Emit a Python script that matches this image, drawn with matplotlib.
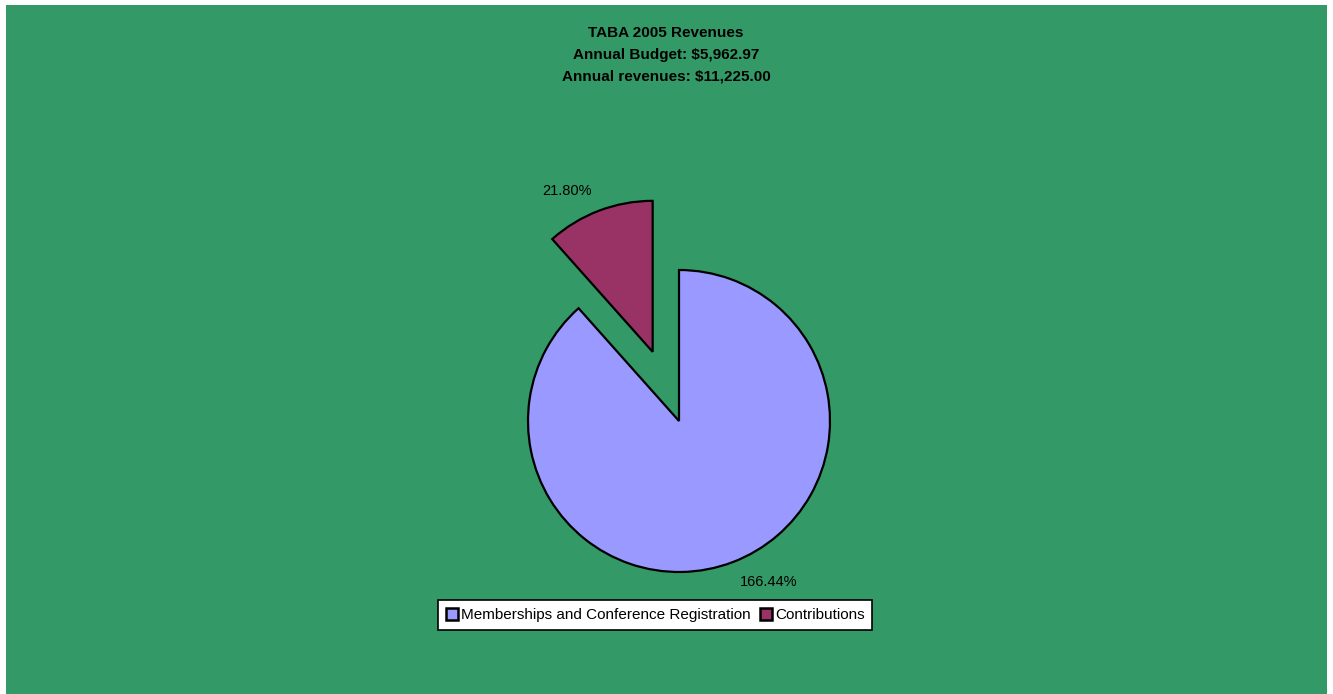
import matplotlib.pyplot as plt
from matplotlib.patches import Rectangle

plt.rcParams['font.family'] = ['Liberation Sans', 'DejaVu Sans']

# data: share of annual budget, in percent
categories = ['Memberships and Conference Registration', 'Contributions']
values = [166.44, 21.80]
colors = ['#9999FF', '#993366']
explode = [0.0, 0.49]

title_lines = ['TABA 2005 Revenues',
               'Annual Budget: $5,962.97',
               'Annual revenues: $11,225.00']

W, H = 1333, 694
fig = plt.figure(figsize=(W / 100, H / 100), dpi=100, facecolor='white')

# green chart area with thin white margin on the left and top
fig.patches.append(Rectangle((6 / W, 0), (1327 - 6) / W, (H - 5) / H,
                             transform=fig.transFigure, facecolor='#339966',
                             edgecolor='none', zorder=-10))

# pie axes: centre (679, 421) px from top-left, radius 151 px
cx, cy, r = 679, H - 421, 151
lim = 1.8
half = lim * r
ax = fig.add_axes([(cx - half) / W, (cy - half) / H, 2 * half / W, 2 * half / H])
ax.set_facecolor('none')
ax.set_zorder(1)

wedges, texts = ax.pie(values, labels=[f'{v:.2f}%' for v in values],
                       colors=colors, explode=explode, startangle=90,
                       counterclock=False, labeldistance=1.14,
                       wedgeprops=dict(edgecolor='black', linewidth=1.6),
                       textprops=dict(fontsize=10.5, color='black'))
ax.set_xlim(-lim, lim)
ax.set_ylim(-lim, lim)
ax.set_aspect('equal')
ax.axis('off')

fig.text(666 / W, 1 - 55 / H, '\n'.join(title_lines), ha='center', va='center',
         fontsize=11, fontweight='bold', linespacing=1.72)

leg = fig.legend(wedges, categories, loc='center', bbox_to_anchor=(655 / W, 1 - 615 / H),
                 ncol=2, fontsize=11, frameon=True, fancybox=False, framealpha=1,
                 handlelength=0.8, handleheight=0.8, handletextpad=0.2,
                 columnspacing=0.6, borderpad=0.5, borderaxespad=0)
leg.get_frame().set_edgecolor('black')
leg.get_frame().set_linewidth(1.2)
leg.get_frame().set_facecolor('white')
leg.set_zorder(5)
for h in leg.legend_handles:
    h.set_linewidth(1.8)

fig.savefig('out.png', dpi=100, facecolor=fig.get_facecolor())
